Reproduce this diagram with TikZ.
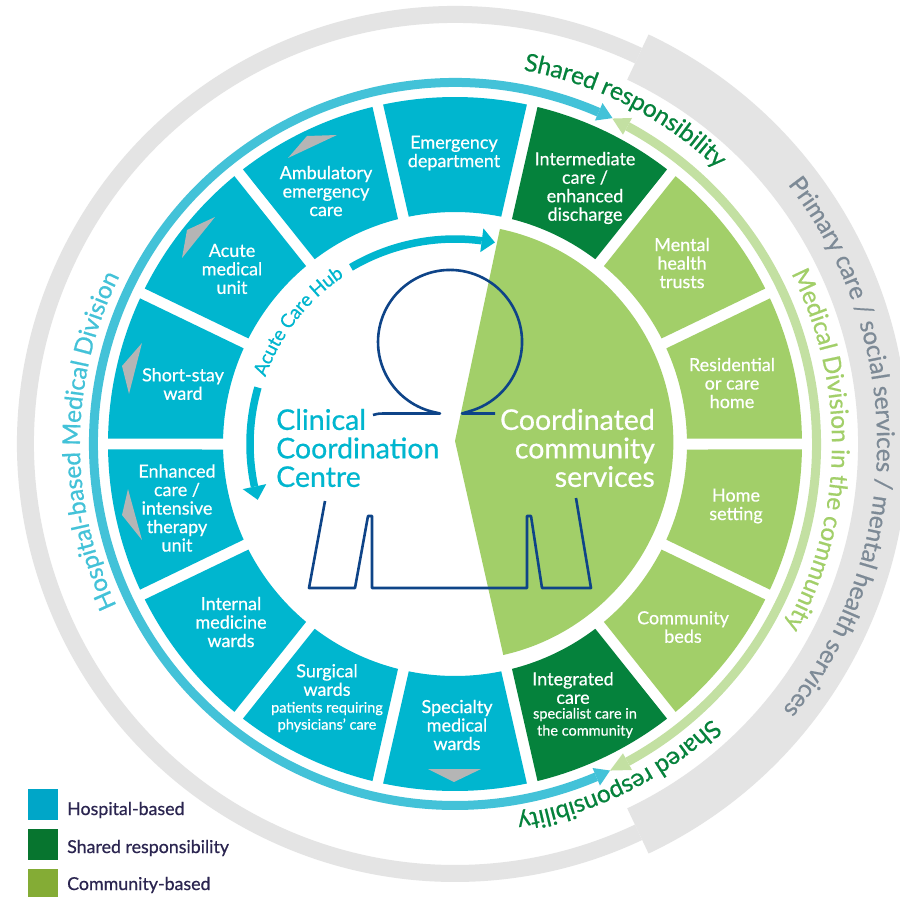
\documentclass[tikz,border=0pt]{standalone}
\usepackage{fontspec}
\setmainfont{Lato}[FakeBold=0.5,AutoFakeBold=0.5]
\newfontfamily\medfont{Lato}[RawFeature={embolden=0.6}]
\usetikzlibrary{decorations.text}
\definecolor{teal1}{HTML}{00B6CF}
\definecolor{dgreen}{HTML}{05823C}
\definecolor{lgreen}{HTML}{A2CF69}
\definecolor{tealarc}{HTML}{43C2D8}
\definecolor{greenarc}{HTML}{C3E0A2}
\definecolor{band}{HTML}{E4E4E4}
\definecolor{tri}{HTML}{B5B5B5}
\definecolor{navy}{HTML}{0E4488}
\definecolor{graytxt}{HTML}{7D8A96}
\definecolor{legA}{HTML}{00A6C8}
\definecolor{legB}{HTML}{07752F}
\definecolor{legC}{HTML}{84AC35}
\definecolor{legtxt}{HTML}{2B2550}
\tikzset{
  cell/.style={text=white,align=center,inner sep=0pt,font=\medfont\fontsize{18}{18.5}\selectfont},
  small/.style={text=white,align=center,inner sep=0pt,font=\medfont\fontsize{14.5}{17}\selectfont},
  big/.style={inner sep=0pt,font=\medfont\fontsize{28.5}{28.5}\selectfont},
  legendtxt/.style={anchor=west,inner sep=0pt,text=legtxt,font=\medfont\fontsize{17.8}{18}\selectfont},
  legendbox/.style={minimum width=30pt,minimum height=31pt,inner sep=0pt},
  figure/.style={draw=navy,line width=2.6pt,line join=round},
  arctext/.style={decorate,decoration={text along path,text align=center,raise=-6pt,text={#1}}}
}
\newcommand\cellsector[3]{\fill[#3] ({#1+0.9}:347) arc[start angle=#1+0.9,end angle=#2-0.9,radius=347] -- ({#2-1.36}:232) arc[start angle=#2-1.36,end angle=#1+1.36,radius=232] -- cycle;}
\newcommand\archead[5]{\fill[#5] (#1:{#3-#4}) -- (#2:#3) -- (#1:{#3+#4}) -- cycle;}
\begin{document}
\begin{tikzpicture}[x=1pt,y=1pt]
\clip (0,0) rectangle (900,-897);
\fill[white] (0,0) rectangle (900,-897);
\begin{scope}[shift={(455,-444)}]
  % outer grey bands
  \draw[band,line width=17pt] (64.7:429.5) arc[start angle=64.7,end angle=295.3,radius=429.5];
  \fill[band] (64.7:403) arc[start angle=64.7,end angle=-64.7,radius=403] -- (-64.7:453) arc[start angle=-64.7,end angle=64.7,radius=453] -- cycle;
  % sectors
  \foreach \i/\c in {0/lgreen,1/lgreen,2/dgreen,3/teal1,4/teal1,5/teal1,6/teal1,7/teal1,8/teal1,9/teal1,10/teal1,11/dgreen,12/lgreen,13/lgreen}{
    \pgfmathsetmacro\aa{\i*360/14}
    \pgfmathsetmacro\bb{(\i+1)*360/14}
    \cellsector{\aa}{\bb}{\c}
  }
  % ring arrows
  \draw[tealarc,line width=9pt] (66.6:361.5) arc[start angle=66.6,end angle=293,radius=361.5];
  \archead{66.6}{64.2}{362}{9.5}{tealarc}
  \archead{293}{295.4}{361.5}{9.5}{tealarc}
  \draw[greenarc,line width=9pt] (61.5:361.5) arc[start angle=61.5,end angle=-61.5,radius=361.5];
  \archead{61.5}{64.2}{361.5}{9.5}{greenarc}
  \archead{-61.5}{-64.6}{361.5}{9.5}{greenarc}
  % inner arrows
  \draw[teal1,line width=7.5pt] (120.5:205) arc[start angle=120.5,end angle=82.5,radius=205];
  \archead{82.5}{78.8}{205.5}{12}{teal1}
  \draw[teal1,line width=7.5pt] (164:205) arc[start angle=164,end angle=192,radius=205];
  \archead{192}{195.8}{205}{12}{teal1}
  % centre wedge
  \fill[lgreen] (0,3) -- (78.2:219.7) arc[start angle=78.2,end angle=-77.3,radius=218] -- cycle;
  % texts on arcs
  \path[arctext={|\medfont\fontsize{24.5}{20}\selectfont\color{graytxt}|Primary care / social services / mental health services}] (38:428) arc[start angle=38,end angle=-39,radius=428];
  \path[arctext={|\medfont\fontsize{24.5}{20}\selectfont\color{lgreen}|Medical Division in the community}] (29:383) arc[start angle=29,end angle=-31,radius=383];
  \path[arctext={|\medfont\fontsize{24.5}{20}\selectfont\color{dgreen}|Shared responsibility}] (81:386) arc[start angle=81,end angle=45,radius=386];
  \path[arctext={|\medfont\fontsize{24.5}{20}\selectfont\color{dgreen}|Shared responsibility}] (-45.5:382) arc[start angle=-45.5,end angle=-82,radius=382];
  \path[arctext={|\medfont\fontsize{24.5}{20}\selectfont\color{tealarc}|Hospital-based Medical Division}] (207:381) arc[start angle=207,end angle=152,radius=381];
  \path[arctext={|\medfont\fontsize{19}{20}\selectfont\color{teal1}|Acute Care Hub}] (162:207) arc[start angle=162,end angle=122,radius=207];
\end{scope}
% grey triangles
\fill[tri] (428,-769) -- (481,-769) -- (454,-782) -- cycle;
\fill[tri] (128,-489) -- (122,-515) -- (142,-540) -- cycle;
\fill[tri] (142,-343) -- (122,-366) -- (129,-394) -- cycle;
\fill[tri] (215,-217) -- (187,-230) -- (182,-258) -- cycle;
\fill[tri] (337,-135) -- (307,-136) -- (288,-158) -- cycle;
% figure
\draw[figure] (373,-415) .. controls (376,-414) and (378,-413.5) .. (384,-413.5) -- (440,-413.5) -- (431.4,-411.5) arc[start angle=-105,end angle=-435,radius=72] -- (462,-413.5) -- (495,-413.5);
\draw[figure] (325,-501) -- (309,-588) -- (355,-588) -- (368,-516) -- (372,-516) -- (372,-588) -- (527,-588) -- (527,-516) -- (531,-516) -- (542,-588) -- (591,-588) -- (576,-498);
% cell labels
\node[cell] (emergency) at (454,-153) {Emergency\\department};
\node[cell] (intermediate) at (585,-188) {Intermediate\\care /\\enhanced\\discharge};
\node[cell] (mental) at (682,-263) {Mental\\health\\trusts};
\node[cell] (residential) at (732,-383) {Residential\\or care\\home};
\node[cell] (home) at (736,-506) {Home\\setting};
\node[cell] (beds) at (683,-627) {Community\\beds};
\node[cell] (integrated) at (573,-688) {Integrated\\care};
\node[small] (integratedsub) at (585,-723) {specialist care in\\the community};
\node[cell] (specialty) at (457,-725) {Specialty\\medical\\wards};
\node[cell] (surgical) at (327,-680) {Surgical\\wards};
\node[small] (surgicalsub) at (327,-717) {patients requiring\\physicians’ care};
\node[cell] (internal) at (231,-622) {Internal\\medicine\\wards};
\node[cell] (enhanced) at (177,-508) {Enhanced\\care /\\intensive\\therapy\\unit};
\node[cell] (shortstay) at (183,-384) {Short-stay\\ward};
\node[cell] (acute) at (232,-269) {Acute\\medical\\unit};
\node[cell] (ambulatory) at (326,-191) {Ambulatory\\emergency\\care};
% centre labels
\node[big,anchor=west,align=left,text=teal1] (clinical) at (276,-448) {Clinical\\Coordination\\Centre};
\node[big,anchor=east,align=right,text=white] (community) at (655,-448) {Coordinated\\community\\services};
% legend
\node[legendbox,fill=legA] (legendA) at (43,-804) {};
\node[legendbox,fill=legB] (legendB) at (43,-844) {};
\node[legendbox,fill=legC] (legendC) at (43,-884) {};
\node[legendtxt] (legendAt) at (67,-810) {Hospital-based};
\node[legendtxt] (legendBt) at (67,-848) {Shared responsibility};
\node[legendtxt] (legendCt) at (67,-885) {Community-based};
\end{tikzpicture}
\end{document}
